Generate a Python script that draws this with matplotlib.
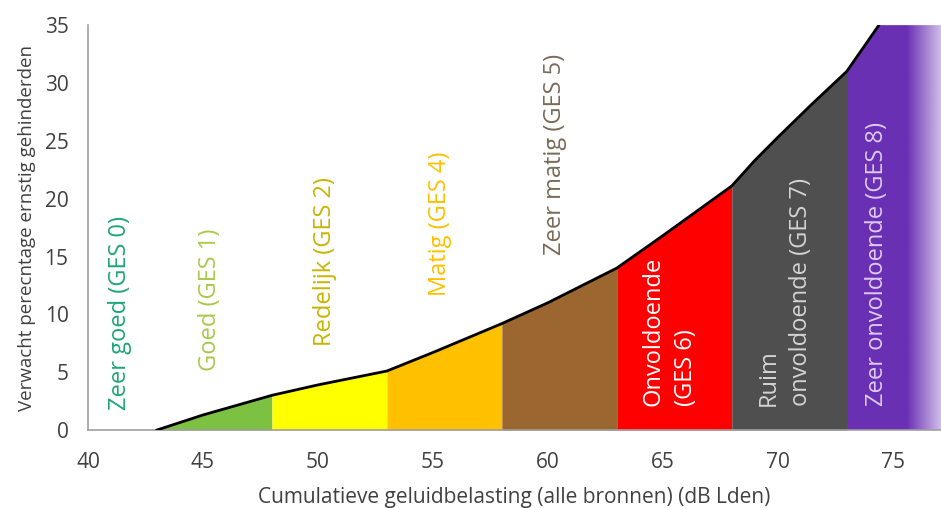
import numpy as np
import matplotlib.pyplot as plt
from matplotlib.colors import to_rgb

plt.rcParams['font.family'] = ['Open Sans', 'DejaVu Sans']

# curve
lden = [43, 45, 48, 50, 53, 55, 58, 60, 63, 65, 68, 69, 70, 71.5, 73, 74.4, 77.2]
ernstig = [0, 1.3, 3.0, 3.9, 5.1, 6.7, 9.2, 11.0, 14.0, 16.8, 21.1, 23.3, 25.3, 28.2, 31.0, 35.0, 43.0]

# GES bands
band_start = [43, 48, 53, 58, 63, 68, 73]
band_end = [48, 53, 58, 63, 68, 73, 77.2]
band_color = ['#7dc142', '#ffff00', '#ffc000', '#9c6631', '#ff0000', '#4f4f4f', '#6a30b4']

labels = ['Zeer goed (GES 0)', 'Goed (GES 1)', 'Redelijk (GES 2)', 'Matig (GES 4)',
          'Zeer matig (GES 5)', 'Onvoldoende\n(GES 6)', 'Ruim\nonvoldoende (GES 7)',
          'Zeer onvoldoende (GES 8)']
label_x = [41.4, 45.3, 50.3, 55.3, 60.3, 65.3, 70.3, 74.3]
label_y = [1.7, 5.1, 7.3, 11.6, 15.1, 2.1, 2.1, 2.1]
label_color = ['#1fa57a', '#a8c94c', '#c8b400', '#ffc000', '#7a6a58', 'white', '#d4d4d4', '#dccbf2']

fig = plt.figure(figsize=(9.41, 5.08), dpi=100)
ax = fig.add_axes([0.0935, 0.1535, 0.9065, 0.797])

xs = np.array(lden)
ys = np.array(ernstig)
for s, e, c in zip(band_start[:-1], band_end[:-1], band_color[:-1]):
    xx = np.linspace(s, e, 50)
    ax.fill_between(xx, 0, np.interp(xx, xs, ys), color=c, lw=0, zorder=1)

# purple band with fading right side
s, e = band_start[-1], band_end[-1]
xx = np.linspace(s, e, 80)
poly = ax.fill_between(xx, 0, np.minimum(np.interp(xx, xs, ys), 35), color='none', lw=0)
grad = np.zeros((2, 200, 4))
grad[..., :3] = to_rgb(band_color[-1])
t = np.linspace(s, e, 200)
alpha = np.clip(1 - (t - 75.6) / (e - 75.6), 0, 1) * 0.75 + 0.25
alpha[t < 75.6] = 1
grad[..., 3] = alpha
im = ax.imshow(grad, extent=[s, e, 0, 35], aspect='auto', origin='lower', zorder=1)
im.set_clip_path(poly.get_paths()[0], transform=ax.transData)

ax.plot(lden, ernstig, color='black', lw=2, zorder=3)

for txt, x, y, c in zip(labels, label_x, label_y, label_color):
    ax.text(x, y, txt, rotation=90, ha='center', va='bottom', color=c,
            fontsize=17, multialignment='left', linespacing=1.45, zorder=4)

ax.set_xlim(40, 77.1)
ax.set_ylim(0, 35)
ax.set_xticks([40, 45, 50, 55, 60, 65, 70, 75])
ax.set_yticks([0, 5, 10, 15, 20, 25, 30, 35])
ax.tick_params(length=0, labelsize=15, colors='#404040')
ax.tick_params(axis='x', pad=16)
ax.tick_params(axis='y', pad=14)
for sp in ['top', 'right']:
    ax.spines[sp].set_visible(False)
for sp in ['left', 'bottom']:
    ax.spines[sp].set_color('#a0a0a0')
    ax.spines[sp].set_linewidth(1.2)

ax.set_xlabel('Cumulatieve geluidbelasting (alle bronnen) (dB Lden)', fontsize=15, color='#404040', labelpad=10)
ax.set_ylabel('Verwacht perecntage ernstig gehinderden', fontsize=13.5, color='#404040', labelpad=6)

fig.savefig('out.png', dpi=100)
